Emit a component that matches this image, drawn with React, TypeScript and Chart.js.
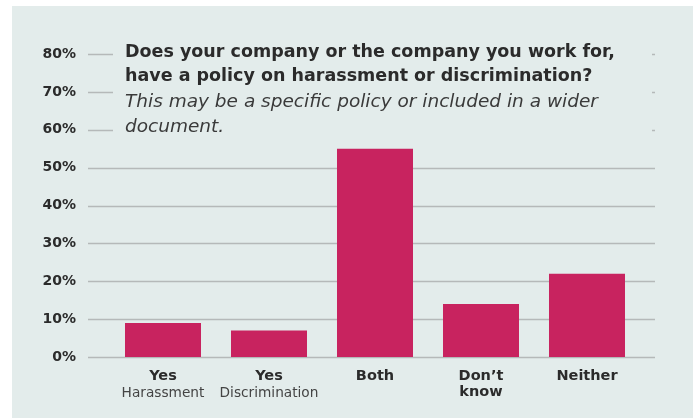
import React, { useEffect, useRef } from "react";
import { Chart, registerables } from "chart.js";

Chart.register(...registerables);

const categories = ["Yes|Harassment", "Yes|Discrimination", "Both", "Don’t|know", "Neither"];
const values = [9, 7, 55, 14, 22];
const yTicks = [0, 10, 20, 30, 40, 50, 60, 70, 80];
const titleLines = [
  "Does your company or the company you work for,",
  "have a policy on harassment or discrimination?",
];
const subtitleLines = [
  "This may be a specific policy or included in a wider",
  "document.",
];

const BG = "#e3eceb";
const BAR = "#c8235f";
const GRID = "#b5b9b9";
const TEXT = "#2b2b2b";
const FONT = "'DejaVu Sans', sans-serif";

export default function App() {
  const ref = useRef<HTMLCanvasElement | null>(null);
  useEffect(() => {
    document.body.style.margin = "0";
    const canvas = ref.current!;
    const decor = {
      id: "decor",
      beforeDraw(chart: any) {
        const ctx = chart.ctx;
        ctx.save();
        ctx.fillStyle = "#ffffff";
        ctx.fillRect(0, 0, chart.width, chart.height);
        ctx.fillStyle = BG;
        ctx.fillRect(12, 6, 681, 412);
        ctx.restore();
      },
      beforeDatasetsDraw(chart: any) {
        const ctx = chart.ctx;
        const y = chart.scales.y;
        ctx.save();
        ctx.strokeStyle = GRID;
        ctx.lineWidth = 1.5;
        for (const t of yTicks) {
          const py = Math.round(y.getPixelForValue(t)) + 0.5;
          ctx.beginPath();
          ctx.moveTo(88, py);
          ctx.lineTo(655, py);
          ctx.stroke();
        }
        ctx.restore();
      },
      afterDraw(chart: any) {
        const ctx = chart.ctx;
        const x = chart.scales.x;
        const y = chart.scales.y;
        ctx.save();
        ctx.fillStyle = BG;
        const top = y.getPixelForValue(80);
        ctx.fillRect(113, top - 14, 539, 96);
        ctx.fillStyle = TEXT;
        ctx.textBaseline = "middle";
        ctx.textAlign = "left";
        ctx.font = `bold 17.5px ${FONT}`;
        ctx.fillText(titleLines[0], 125, top - 1.5);
        ctx.fillText(titleLines[1], 125, top + 22.5);
        ctx.fillStyle = "#3a3a3a";
        ctx.font = `oblique 18.5px ${FONT}`;
        ctx.fillText(subtitleLines[0], 125, top + 48.5);
        ctx.fillText(subtitleLines[1], 125, top + 73);
        ctx.textAlign = "center";
        const base = y.getPixelForValue(0);
        categories.forEach((c, i) => {
          const px = x.getPixelForValue(i);
          const [a, b] = c.split("|");
          ctx.fillStyle = TEXT;
          ctx.font = `bold 14.5px ${FONT}`;
          ctx.fillText(a, px, base + 19);
          if (b) {
            if (b === "know") {
              ctx.fillText(b, px, base + 35);
            } else {
              ctx.fillStyle = "#444444";
              ctx.font = `13.7px ${FONT}`;
              ctx.fillText(b, px, base + 36);
            }
          }
        });
        ctx.restore();
      },
    };
    const chart = new Chart(canvas, {
      type: "bar",
      data: {
        labels: categories,
        datasets: [
          {
            data: values,
            backgroundColor: BAR,
            categoryPercentage: 1,
            barPercentage: 0.717,
          },
        ],
      },
      options: {
        animation: false,
        responsive: false,
        layout: { padding: { left: 0, right: 57, top: 54, bottom: 61 } },
        plugins: { legend: { display: false }, tooltip: { enabled: false } },
        scales: {
          x: { display: false },
          y: {
            min: 0,
            max: 80,
            grid: { display: false },
            border: { display: false },
            afterFit(scale: any) {
              scale.width = 110;
            },
            afterBuildTicks(scale: any) {
              scale.ticks = yTicks.map((v) => ({ value: v }));
            },
            ticks: {
              padding: 26,
              color: TEXT,
              font: { family: FONT, size: 14, weight: "bold" },
              callback: (v: any) => `${v}%`,
            },
          },
        },
      },
      plugins: [decor],
    });
    return () => chart.destroy();
  }, []);
  return <canvas ref={ref} width={697} height={418} style={{ display: "block" }} />;
}
